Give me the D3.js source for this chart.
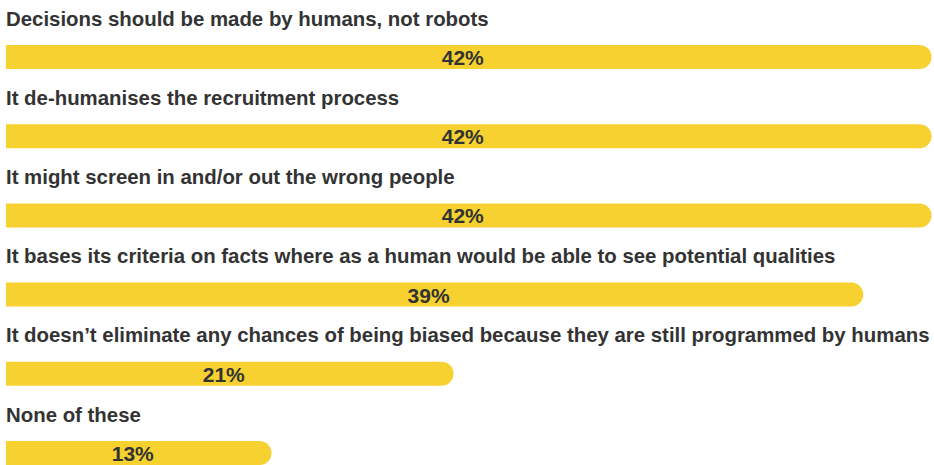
<!DOCTYPE html>
<html>
<head>
<meta charset="utf-8">
<script src="https://cdn.jsdelivr.net/npm/d3@7"></script>
<style>
  html, body { margin: 0; padding: 0; background: #ffffff; }
  svg { display: block; }
  text { font-family: "Liberation Sans", Arial, Helvetica, sans-serif; font-weight: bold; fill: #333333; }
</style>
</head>
<body>
<svg id="chart" width="934" height="465"></svg>
<script>
// Reasons given, one bar per statement
const categories = [
  "Decisions should be made by humans, not robots",
  "It de-humanises the recruitment process",
  "It might screen in and/or out the wrong people",
  "It bases its criteria on facts where as a human would be able to see potential qualities",
  "It doesn\u2019t eliminate any chances of being biased because they are still programmed by humans",
  "None of these"
];
const values = [42, 42, 42, 39, 21, 13];
const valueLabels = values.map(v => v + "%");

const width = 934, height = 465;
const margin = { left: 6, top: 45 };
const barHeight = 24;
const capRadius = barHeight / 2;
const labelSize = 20.4;
const valueSize = 21;
const barColor = "#f6d12f";

const svg = d3.select("#chart");

// Horizontal scale: bar body length (the rounded end cap is added on top)
const x = d3.scaleLinear()
  .domain([1.86, 42])
  .range([0, 913.5]);

// Vertical placement of each row (bar top positions)
const y = d3.scaleBand()
  .domain(d3.range(categories.length))
  .range([margin.top, margin.top + 79.2 * categories.length])
  .paddingInner(0)
  .paddingOuter(0);

const rows = svg.selectAll("g.row")
  .data(categories.map((c, i) => ({ label: c, value: values[i], text: valueLabels[i], i })))
  .join("g")
  .attr("class", "row")
  .attr("transform", d => `translate(${margin.left},${y(d.i)})`);

// Statement label above each bar
rows.append("text")
  .attr("x", 0)
  .attr("y", -19.5)
  .attr("font-size", labelSize)
  .text(d => d.label);

// Bar with square left end and rounded right end
rows.append("path")
  .attr("fill", barColor)
  .attr("d", d => {
    const w = x(d.value);
    const p = d3.path();
    p.moveTo(0, 0);
    p.lineTo(w, 0);
    p.arc(w, capRadius, capRadius, -Math.PI / 2, Math.PI / 2);
    p.lineTo(0, barHeight);
    p.closePath();
    return p.toString();
  });

// Percentage centred on the bar body
rows.append("text")
  .attr("x", d => x(d.value) / 2)
  .attr("y", 20)
  .attr("text-anchor", "middle")
  .attr("font-size", valueSize)
  .text(d => d.text);
</script>
</body>
</html>
